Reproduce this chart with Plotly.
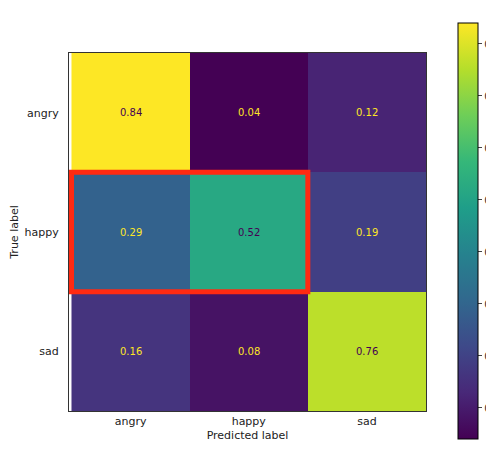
import plotly.graph_objects as go

labels = ["angry", "happy", "sad"]
values = [[0.84, 0.04, 0.12],
          [0.29, 0.52, 0.19],
          [0.16, 0.08, 0.76]]
cbar_ticks = [0.1, 0.2, 0.3, 0.4, 0.5, 0.6, 0.7, 0.8]

fig = go.Figure(go.Heatmap(
    z=values, x=labels, y=labels, colorscale="Viridis", zmin=0.04, zmax=0.84,
    colorbar=dict(x=0.875, xanchor="left", thickness=20, thicknessmode="pixels",
                  len=436, lenmode="pixels", y=0.503, yanchor="middle",
                  tickvals=cbar_ticks, ticks="outside", ticklen=4,
                  outlinecolor="black", outlinewidth=1,
                  tickfont=dict(size=11, color="#333")),
    hoverinfo="skip"))

for i, row in enumerate(values):
    for j, v in enumerate(row):
        fig.add_annotation(x=labels[j], y=labels[i], text=f"{v:.2f}", showarrow=False,
                           font=dict(size=10, color="#440154" if v > 0.44 else "#fde725"))

fig.add_shape(type="rect", xref="x", yref="y", x0=-0.5, x1=1.5, y0=0.5, y1=1.5,
              line=dict(color="#ff2a12", width=5))

fig.update_layout(
    width=494, height=449, margin=dict(l=61, r=0, t=45, b=46, autoexpand=False),
    paper_bgcolor="white", plot_bgcolor="white",
    font=dict(family="DejaVu Sans", color="#222"),
    xaxis=dict(domain=[0, 0.8245], title=dict(text="Predicted label", font=dict(size=11), standoff=4),
               showline=True, mirror=True, linecolor="#333", tickfont=dict(size=11), showgrid=False,
               automargin=False),
    yaxis=dict(autorange="reversed", title=dict(text="True label", font=dict(size=11), standoff=8),
               showline=True, mirror=True, linecolor="#333", tickfont=dict(size=11), showgrid=False,
               ticksuffix="  ", automargin=False),
)
fig.write_html("out.html")
